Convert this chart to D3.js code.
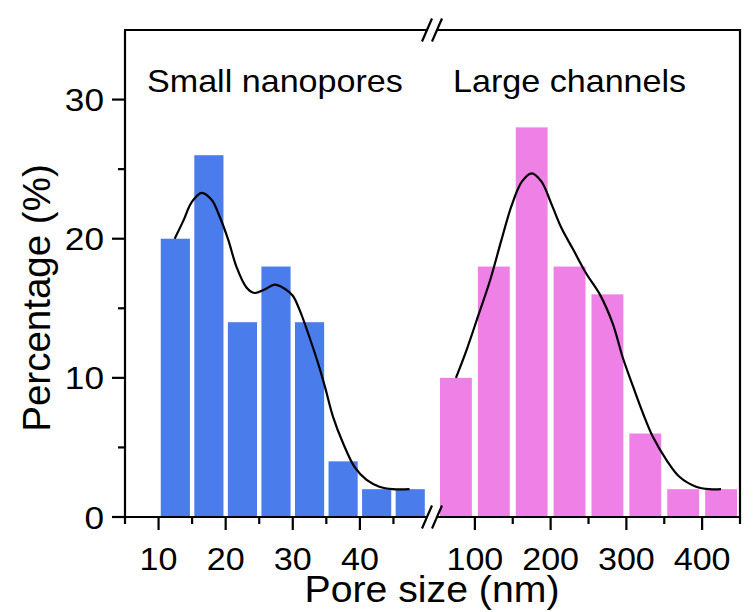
<!DOCTYPE html>
<html>
<head>
<meta charset="utf-8">
<script src="https://cdn.jsdelivr.net/npm/d3@7"></script>
<style>
  html, body { margin: 0; padding: 0; background: #ffffff; }
  svg { display: block; }
  text { font-family: "Liberation Sans", Arial, sans-serif; fill: #000; }
</style>
</head>
<body>
<svg id="chart" width="753" height="612"></svg>
<script>
// ---------- data ----------
const smallBinStarts = [10, 15, 20, 25, 30, 35, 40, 45];
const smallValues    = [20, 26, 14, 18, 14, 4, 2, 2];
const smallBinWidth  = 5;

const largeBinStarts = [50, 100, 150, 200, 250, 300, 350, 400];
const largeValues    = [10, 18, 28, 18, 16, 6, 2, 2];
const largeBinWidth  = 50;

// fitted curves
const smallCurveX = [12.4, 13.7, 14.9, 16.4, 17.9, 19.1, 20.4, 21.6, 23.1, 24.3, 25.8, 27.3, 28.8, 30.0, 31.0, 32.5, 33.8, 34.8, 36.0, 37.5, 39.2, 41.0, 42.9, 44.9, 47.4];
const smallCurveY = [20.0, 21.3, 22.6, 23.3, 22.8, 21.6, 19.9, 18.0, 16.5, 16.1, 16.35, 16.7, 16.4, 15.9, 14.9, 12.9, 11.0, 9.35, 7.2, 5.3, 3.6, 2.66, 2.18, 2.0, 2.0];

const largeCurveX = [75, 89, 104, 120, 135, 148, 162, 175, 188, 201, 214, 230, 247, 265, 282, 295, 309, 322, 335, 353, 370, 392, 410, 425];
const largeCurveY = [10.0, 12.0, 14.4, 17.0, 19.9, 22.3, 24.1, 24.7, 24.1, 22.5, 20.8, 19.2, 17.5, 16.0, 13.9, 11.5, 9.35, 7.44, 5.76, 4.09, 2.89, 2.18, 2.0, 2.0];

const yMajorTicks = [0, 10, 20, 30];
const yMinorTicks = [5, 15, 25];
const smallMajorTicks = [10, 20, 30, 40];
const smallMinorTicks = [5, 15, 25, 35, 45];
const largeMajorTicks = [100, 200, 300, 400];
const largeMinorTicks = [150, 250, 350, 450];

const yLabel = "Percentage (%)";
const xLabel = "Pore size (nm)";
const smallTitle = "Small nanopores";
const largeTitle = "Large channels";

// ---------- layout ----------
const svg = d3.select("#chart");
const plotLeft = 125, plotRight = 740, plotTop = 30, plotBottom = 517;
const breakL = 427, breakR = 437;
const blue = "#4a7cec", pink = "#ef80e6";

const y = d3.scaleLinear().domain([0, 35]).range([plotBottom, plotTop]);
const xs = d3.scaleLinear().domain([5, 50]).range([plotLeft, breakL]);
const xl = d3.scaleLinear().domain([50, 450]).range([breakR, plotRight]);

// ---------- bars ----------
function drawBars(starts, values, w, sx, color, inset) {
  svg.append("g").selectAll("rect")
    .data(starts.map((s, i) => ({ s, v: values[i] })))
    .join("rect")
    .attr("x", d => sx(d.s) + inset)
    .attr("width", d => sx(d.s + w) - sx(d.s) - 2 * inset)
    .attr("y", d => y(d.v))
    .attr("height", d => y(0) - y(d.v))
    .attr("fill", color);
}
drawBars(smallBinStarts, smallValues, smallBinWidth, xs, blue, 2.2);
drawBars(largeBinStarts, largeValues, largeBinWidth, xl, pink, 3);

// ---------- curves ----------
function drawCurve(xv, yv, sx) {
  const line = d3.line().x(d => sx(d[0])).y(d => y(d[1])).curve(d3.curveCatmullRom.alpha(0.5));
  svg.append("path")
    .datum(xv.map((v, i) => [v, yv[i]]))
    .attr("d", line)
    .attr("fill", "none")
    .attr("stroke", "#000")
    .attr("stroke-width", 2.2);
}
drawCurve(smallCurveX, smallCurveY, xs);
drawCurve(largeCurveX, largeCurveY, xl);

// ---------- axes ----------
const ax = svg.append("g").attr("stroke", "#000").attr("stroke-width", 2.2).attr("fill", "none");
// left & right
ax.append("line").attr("x1", plotLeft).attr("x2", plotLeft).attr("y1", plotTop).attr("y2", plotBottom + 1);
ax.append("line").attr("x1", plotRight).attr("x2", plotRight).attr("y1", plotTop - 1).attr("y2", plotBottom + 1);
// top & bottom, with breaks
[plotTop, plotBottom].forEach(yy => {
  ax.append("line").attr("x1", plotLeft - 1).attr("x2", breakL).attr("y1", yy).attr("y2", yy);
  ax.append("line").attr("x1", breakR).attr("x2", plotRight + 1).attr("y1", yy).attr("y2", yy);
  [breakL, breakR].forEach(bx => {
    ax.append("line").attr("x1", bx - 5).attr("y1", yy + 11.5).attr("x2", bx + 5).attr("y2", yy - 11.5);
  });
});
// y ticks
yMajorTicks.forEach(t => ax.append("line").attr("x1", plotLeft - 13).attr("x2", plotLeft).attr("y1", y(t)).attr("y2", y(t)));
yMinorTicks.forEach(t => ax.append("line").attr("x1", plotLeft - 7).attr("x2", plotLeft).attr("y1", y(t)).attr("y2", y(t)));
// x ticks
smallMajorTicks.forEach(t => ax.append("line").attr("x1", xs(t)).attr("x2", xs(t)).attr("y1", plotBottom).attr("y2", plotBottom + 13));
smallMinorTicks.forEach(t => ax.append("line").attr("x1", xs(t)).attr("x2", xs(t)).attr("y1", plotBottom).attr("y2", plotBottom + 7));
largeMajorTicks.forEach(t => ax.append("line").attr("x1", xl(t)).attr("x2", xl(t)).attr("y1", plotBottom).attr("y2", plotBottom + 13));
largeMinorTicks.forEach(t => ax.append("line").attr("x1", xl(t)).attr("x2", xl(t)).attr("y1", plotBottom).attr("y2", plotBottom + 7));

// ---------- text ----------
function label(x, yy, str, size, anchor, sx, rot) {
  svg.append("text")
    .attr("transform", `translate(${x},${yy}) rotate(${rot || 0}) scale(${sx},1)`)
    .attr("text-anchor", anchor)
    .attr("font-size", size)
    .text(str);
}
yMajorTicks.forEach(t => label(104, y(t) + 11.5, String(t), 32, "end", 1.1));
smallMajorTicks.forEach(t => label(xs(t), 570, String(t), 31, "middle", 1.1));
largeMajorTicks.forEach(t => label(xl(t), 570, String(t), 31, "middle", 1.1));

label(432, 602, xLabel, 37, "middle", 1.06);
label(50, 298, yLabel, 38.5, "middle", 1, -90);

label(147, 92, smallTitle, 31, "start", 1.1);
label(453, 92, largeTitle, 31, "start", 1.1);
</script>
</body>
</html>
